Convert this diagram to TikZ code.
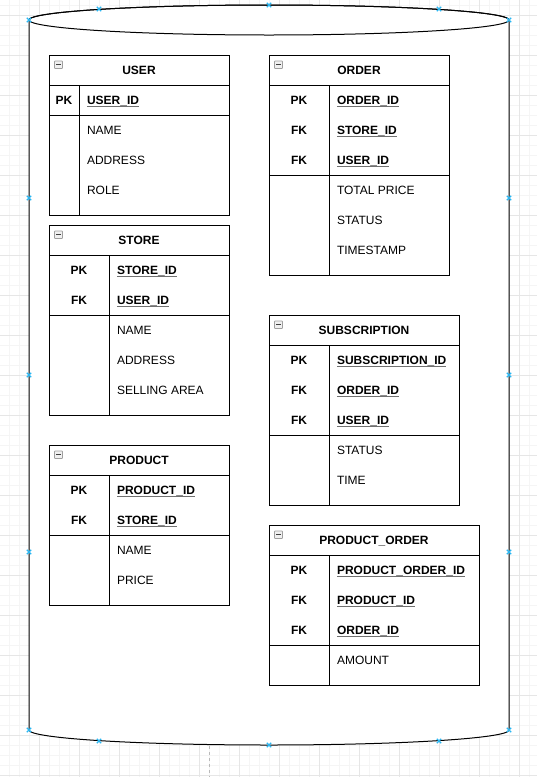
\documentclass[tikz,border=0pt]{standalone}
\usepackage{fontspec}
\setmainfont{Liberation Sans}
\usetikzlibrary{calc}
\definecolor{gridminor}{HTML}{F5F5F5}
\definecolor{gridmajor}{HTML}{E6E6E6}
\definecolor{handlecol}{HTML}{29B6F2}
\definecolor{ulcol}{HTML}{707070}
\tikzset{
  tabbox/.style={draw=black, line width=1pt, fill=white, inner sep=0pt, outer sep=0pt},
  tabline/.style={draw=black, line width=1pt},
  ertxt/.style={inner sep=0pt, outer sep=0pt, text=black},
  titletxt/.style={ertxt, font=\fontsize{12}{14}\selectfont\bfseries, anchor=base},
  keytxt/.style={ertxt, font=\fontsize{12}{14}\selectfont\bfseries, anchor=base},
  nametxt/.style={ertxt, font=\fontsize{12}{14}\selectfont\bfseries, anchor=base west},
  attrtxt/.style={ertxt, font=\fontsize{12}{14}\selectfont, anchor=base west},
  ulline/.style={draw=ulcol, line width=1pt},
  iconbox/.style={draw=gray!75, fill=gray!12, line width=0.7pt, rounded corners=0.6pt},
  iconminus/.style={draw=black!75, line width=0.9pt},
  handle/.style={draw=handlecol, line width=1.1pt},
  gridmin/.style={draw=gridminor, line width=1pt},
  gridmaj/.style={draw=gridmajor, line width=1pt},
  cylbody/.style={draw=black, line width=1pt, fill=white},
  pagebreak/.style={draw=gray!55, line width=1pt, dashed, dash pattern=on 3pt off 3pt},
}
\newcommand\ertable[9]{%
  \pgfmathsetmacro\erH{30+30*#6+30*#7+10}%
  \node[tabbox, minimum width=#4pt, minimum height=\erH pt, anchor=north west] (#1) at (#2,#3) {};
  \draw[tabline] ($(#1.north west)+(0,-30pt)$) -- ($(#1.north east)+(0,-30pt)$);
  \draw[tabline] ($(#1.north west)+(0,{-30pt-30pt*#6})$) -- ($(#1.north east)+(0,{-30pt-30pt*#6})$);
  \draw[tabline] ($(#1.north west)+(#5pt,-30pt)$) -- ($(#1.south west)+(#5pt,0)$);
  \node[titletxt] (#1-title) at ($(#1.north)+(0,-19.3pt)$) {#8};
  \draw[iconbox] ($(#1.north west)+(5.5pt,-6pt)$) rectangle ($(#1.north west)+(13.5pt,-13.5pt)$);
  \draw[iconminus] ($(#1.north west)+(7.3pt,-9.75pt)$) -- ($(#1.north west)+(11.7pt,-9.75pt)$);
  \foreach \k/\n [count=\i] in {#9} {
    \node[keytxt] (#1-k\i) at ($(#1.north west)+({#5pt/2},{-49.3pt-30pt*(\i-1)})$) {\k};
    \node[nametxt] (#1-n\i) at ($(#1.north west)+({#5pt+8pt},{-49.3pt-30pt*(\i-1)})$) {\n};
    \draw[ulline] ($(#1-n\i.base west)+(0,-1.8pt)$) -- ($(#1-n\i.base east)+(0,-1.8pt)$);
  }
}
\newcommand\erattrs[4]{%
  \foreach \a [count=\i] in {#4} {
    \node[attrtxt] (#1-a\i) at ($(#1.north west)+({#2pt+8pt},{-49.3pt-30pt*#3-30pt*(\i-1)})$) {\a};
  }
}
\newcommand\selhandle[2]{%
  \draw[handle] ($(#1,#2)+(-2.2pt,-2.2pt)$) -- ($(#1,#2)+(2.2pt,2.2pt)$)
                ($(#1,#2)+(-2.2pt,2.2pt)$) -- ($(#1,#2)+(2.2pt,-2.2pt)$);
}
\begin{document}
\begin{tikzpicture}[x=1pt, y=-1pt]
  \useasboundingbox (0,0) rectangle (537,777);
  \fill[white] (0,0) rectangle (537,777);
  % grid
  \foreach \gx in {9,19,...,529} \draw[gridmin] (\gx,0) -- (\gx,777);
  \foreach \gy in {5,15,...,775} \draw[gridmin] (0,\gy) -- (537,\gy);
  \foreach \gx in {39,79,...,519} \draw[gridmaj] (\gx,0) -- (\gx,777);
  \foreach \gy in {15,55,...,775} \draw[gridmaj] (0,\gy) -- (537,\gy);
  % page break line
  \draw[pagebreak] (209,746) -- (209,777);
  % cylinder
  \draw[cylbody] (29,20) -- (29,730)
     arc[start angle=180, end angle=360, x radius=240pt, y radius=15pt]
     -- (509,20) arc[start angle=0, end angle=180, x radius=240pt, y radius=15pt] -- cycle;
  \draw[line width=1pt] (269,20) ellipse [x radius=240pt, y radius=15pt];
  % tables
  \ertable{user}{49}{55}{180}{30}{1}{3}{USER}{PK/USER\_ID}
  \erattrs{user}{30}{1}{NAME,ADDRESS,ROLE}
  \ertable{store}{49}{225}{180}{60}{2}{3}{STORE}{PK/STORE\_ID,FK/USER\_ID}
  \erattrs{store}{60}{2}{NAME,ADDRESS,SELLING AREA}
  \ertable{product}{49}{445}{180}{60}{2}{2}{PRODUCT}{PK/PRODUCT\_ID,FK/STORE\_ID}
  \erattrs{product}{60}{2}{NAME,PRICE}
  \ertable{order}{269}{55}{180}{60}{3}{3}{ORDER}{PK/ORDER\_ID,FK/STORE\_ID,FK/USER\_ID}
  \erattrs{order}{60}{3}{TOTAL PRICE,STATUS,TIMESTAMP}
  \ertable{subscription}{269}{315}{190}{60}{3}{2}{SUBSCRIPTION}{PK/SUBSCRIPTION\_ID,FK/ORDER\_ID,FK/USER\_ID}
  \erattrs{subscription}{60}{3}{STATUS,TIME}
  \ertable{productorder}{269}{525}{210}{60}{3}{1}{PRODUCT\_ORDER}{PK/PRODUCT\_ORDER\_ID,FK/PRODUCT\_ID,FK/ORDER\_ID}
  \erattrs{productorder}{60}{3}{AMOUNT}
  % selection handles
  \selhandle{29}{20}\selhandle{99}{9}\selhandle{269}{5}\selhandle{439}{9}\selhandle{509}{20}
  \selhandle{29}{198}\selhandle{29}{375}\selhandle{29}{552}
  \selhandle{509}{198}\selhandle{509}{375}\selhandle{509}{552}
  \selhandle{29}{730}\selhandle{99}{741}\selhandle{269}{745}\selhandle{439}{741}\selhandle{509}{730}
\end{tikzpicture}
\end{document}
